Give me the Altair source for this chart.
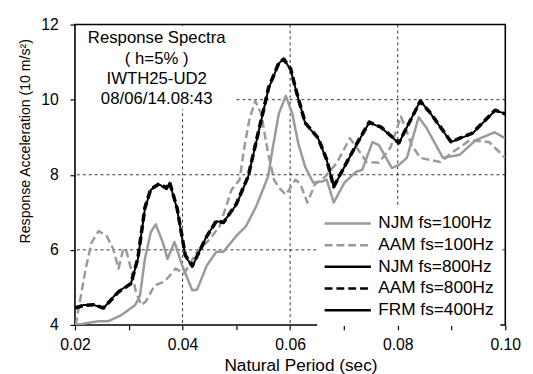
import altair as alt
import pandas as pd

FONT = "Liberation Sans"

series_names = ["NJM fs=100Hz", "AAM fs=100Hz", "NJM fs=800Hz", "AAM fs=800Hz", "FRM fs=400Hz"]
series_colors = ["#9a9a9a", "#9a9a9a", "#000000", "#000000", "#000000"]
series_dashes = [[1, 0], [8, 4], [1, 0], [8, 4], [1, 0]]
series_widths = [2.5, 2.5, 2.0, 3.6, 1.0]

# NJM fs=100Hz (gray solid)
njm100_t = [0.0200, 0.0202, 0.0244, 0.0262, 0.0286, 0.0312, 0.0321, 0.0330, 0.0341, 0.0350,
            0.0363, 0.0372, 0.0385, 0.0399, 0.0418, 0.0427, 0.0445, 0.0463, 0.0476, 0.0500,
            0.0518, 0.0537, 0.0559, 0.0568, 0.0579, 0.0592, 0.0604, 0.0615, 0.0628, 0.0643,
            0.0659, 0.0668, 0.0681, 0.0701, 0.0723, 0.0734, 0.0753, 0.0765, 0.0789, 0.0802,
            0.0817, 0.0839, 0.0853, 0.0884, 0.0915, 0.0945, 0.0980, 0.1000]
njm100_a = [3.98, 4.00, 4.10, 4.10, 4.26, 4.53, 4.79, 5.76, 6.47, 6.68,
            6.21, 5.76, 6.21, 5.60, 4.92, 4.94, 5.58, 5.95, 5.95, 6.37,
            6.63, 7.16, 7.95, 8.74, 9.63, 10.10, 9.63, 8.84, 8.21, 7.79,
            7.82, 7.87, 7.26, 7.79, 8.08, 8.13, 8.87, 8.79, 8.18, 8.26,
            8.45, 9.53, 9.26, 8.45, 8.53, 8.92, 9.13, 8.97]

# AAM fs=100Hz (gray dashed)
aam100_t = [0.0200, 0.0202, 0.0220, 0.0231, 0.0244, 0.0259, 0.0271, 0.0281, 0.0290, 0.0295,
            0.0304, 0.0313, 0.0323, 0.0332, 0.0348, 0.0367, 0.0387, 0.0403, 0.0427, 0.0451,
            0.0469, 0.0491, 0.0506, 0.0515, 0.0524, 0.0535, 0.0546, 0.0559, 0.0570, 0.0579,
            0.0592, 0.0610, 0.0619, 0.0632, 0.0646, 0.0665, 0.0687, 0.0711, 0.0723, 0.0742,
            0.0765, 0.0787, 0.0806, 0.0811, 0.0826, 0.0842, 0.0879, 0.0903, 0.0934, 0.0970,
            0.1000]
aam100_a = [4.00, 4.05, 5.50, 6.20, 6.50, 6.37, 6.03, 5.50, 6.03, 6.00,
            5.50, 4.90, 4.53, 4.63, 5.05, 5.16, 5.50, 5.37, 5.95, 6.29,
            6.63, 7.60, 7.87, 8.74, 9.45, 9.97, 9.63, 8.58, 7.87, 7.66,
            7.47, 7.87, 7.75, 7.26, 7.74, 7.95, 8.32, 8.97, 8.74, 8.34,
            8.32, 8.74, 9.55, 9.37, 8.79, 8.45, 8.34, 8.61, 8.92, 8.87,
            8.45]

# 800Hz / 400Hz (black)
black_t = [0.0200, 0.0216, 0.0235, 0.0253, 0.0281, 0.0304, 0.0317, 0.0330, 0.0341, 0.0357,
           0.0370, 0.0376, 0.0390, 0.0405, 0.0418, 0.0445, 0.0463, 0.0476, 0.0500, 0.0522,
           0.0542, 0.0560, 0.0579, 0.0588, 0.0601, 0.0610, 0.0628, 0.0652, 0.0668, 0.0681,
           0.0701, 0.0723, 0.0747, 0.0769, 0.0802, 0.0842, 0.0861, 0.0899, 0.0939, 0.0981,
           0.1000]
njm800_a = [4.45, 4.53, 4.53, 4.45, 4.90, 5.10, 5.76, 7.10, 7.60, 7.74,
            7.62, 7.79, 7.08, 5.84, 5.55, 6.37, 6.76, 6.74, 7.20, 7.95,
            9.18, 10.30, 10.97, 11.08, 10.80, 10.30, 9.37, 8.97, 8.39, 7.68,
            8.21, 8.79, 9.39, 9.26, 8.84, 9.97, 9.63, 8.87, 9.10, 9.71,
            9.63]
aam800_a = [4.45, 4.52, 4.54, 4.45, 4.88, 5.10, 5.78, 7.12, 7.62, 7.76,
            7.64, 7.80, 7.10, 5.86, 5.57, 6.36, 6.77, 6.73, 7.22, 7.96,
            9.20, 10.32, 10.98, 11.08, 10.82, 10.30, 9.38, 8.98, 8.40, 7.68,
            8.22, 8.80, 9.40, 9.27, 8.85, 9.96, 9.64, 8.88, 9.11, 9.72,
            9.62]
frm400_a = [4.45, 4.53, 4.53, 4.45, 4.90, 5.10, 5.76, 7.10, 7.60, 7.74,
            7.62, 7.79, 7.08, 5.84, 5.55, 6.37, 6.76, 6.74, 7.20, 7.95,
            9.18, 10.30, 10.97, 11.08, 10.80, 10.30, 9.37, 8.97, 8.39, 7.68,
            8.21, 8.79, 9.39, 9.26, 8.84, 9.97, 9.63, 8.87, 9.10, 9.71,
            9.63]

x_ticks = [0.02, 0.03, 0.04, 0.05, 0.06, 0.07, 0.08, 0.09, 0.10]
y_ticks = [4, 6, 8, 10, 12]
grid_x = [0.04, 0.06, 0.08]
grid_y = [6, 8, 10]
title_lines = ["Response Spectra", "( h=5% )", "IWTH25-UD2", "08/06/14.08:43"]

# draw order: gray first, then black
draw = [
    ("NJM fs=100Hz", njm100_t, njm100_a),
    ("AAM fs=100Hz", aam100_t, aam100_a),
    ("FRM fs=400Hz", black_t, frm400_a),
    ("NJM fs=800Hz", black_t, njm800_a),
    ("AAM fs=800Hz", black_t, aam800_a),
]
rows = []
for k, (name, ts, accs) in enumerate(draw):
    w = series_widths[series_names.index(name)]
    for t, a in zip(ts, accs):
        rows.append({"series": name, "period": t, "acc": a, "w": w, "k": k})
df = pd.DataFrame(rows)

x_scale = alt.Scale(domain=[0.02, 0.10], nice=False, zero=False)
y_scale = alt.Scale(domain=[4, 12], nice=False, zero=False)

legend = alt.Legend(
    title=None, orient="none", legendX=246, legendY=186,
    fillColor="white", padding=6, labelFontSize=17.5, labelFont=FONT,
    labelColor="black", symbolType="stroke", symbolSize=2209,
    symbolStrokeWidth=2.5,
    clipHeight=20, rowPadding=2, labelOffset=6, labelLimit=300,
)

x_axis = alt.Axis(
    values=x_ticks, grid=False, domain=False, ticks=True, tickColor="black",
    tickSize=5, tickWidth=1.2, labelFont=FONT, labelFontSize=16, labelColor="black",
    labelPadding=7, labelFlush=False, labelOverlap=False,
    labelExpr="(round(datum.value*100) % 2 == 0) ? format(datum.value, '.2f') : ''",
    title="Natural Period (sec)", titleFont=FONT, titleFontSize=17.5,
    titleFontWeight="normal", titleColor="black", titleX=229, titleY=46,
    titleBaseline="alphabetic", titleAlign="center",
)
y_axis = alt.Axis(
    values=y_ticks, format="d", grid=False, domain=False, tickColor="black",
    tickSize=5, tickWidth=1.2, labelFont=FONT, labelFontSize=16, labelColor="black",
    labelPadding=12, labelFlush=False,
    title="Response Acceleration  (10 m/s²)", titleFont=FONT, titleFontSize=14.3,
    titleFontWeight="normal", titleColor="black", titleX=-50, titleY=118,
    titleAlign="center", titleBaseline="middle", titleAngle=270,
)

lines = alt.Chart(df).mark_line(clip=True, strokeJoin="round").encode(
    x=alt.X("period:Q", scale=x_scale, axis=x_axis),
    y=alt.Y("acc:Q", scale=y_scale, axis=y_axis),
    color=alt.Color("series:N", scale=alt.Scale(domain=series_names, range=series_colors), legend=legend),
    strokeDash=alt.StrokeDash("series:N", scale=alt.Scale(domain=series_names, range=series_dashes), legend=legend),
    strokeWidth=alt.StrokeWidth("w:Q", scale=None, legend=None),
    order=alt.Order("k:Q"),
)

gx = alt.Chart(pd.DataFrame({"period": grid_x})).mark_rule(
    color="black", strokeWidth=0.8, strokeDash=[3, 3]
).encode(x=alt.X("period:Q", scale=x_scale, axis=x_axis))
gy = alt.Chart(pd.DataFrame({"acc": grid_y})).mark_rule(
    color="black", strokeWidth=0.8, strokeDash=[3, 3]
).encode(y=alt.Y("acc:Q", scale=y_scale, axis=y_axis))

box = alt.Chart(pd.DataFrame({"a": [0]})).mark_rect(color="white").encode(
    x=alt.value(1.5), x2=alt.value(162), y=alt.value(1.5), y2=alt.value(86)
)
title_text = alt.Chart(pd.DataFrame({"t": ["\n".join(title_lines)]})).mark_text(
    font=FONT, fontSize=17, color="black", align="center", baseline="top",
    lineBreak="\n", lineHeight=20.7
).encode(x=alt.value(83), y=alt.value(6), text="t:N")

chart = alt.layer(gx, gy, lines, box, title_text).properties(
    width=437, height=305,
    padding={"left": 68, "top": 14, "right": 20, "bottom": 47},
    autosize="none",
).configure(font=FONT).configure_view(stroke="black", strokeWidth=1.6)

chart.save("out.html", embed_options={"renderer": "svg", "actions": False})
